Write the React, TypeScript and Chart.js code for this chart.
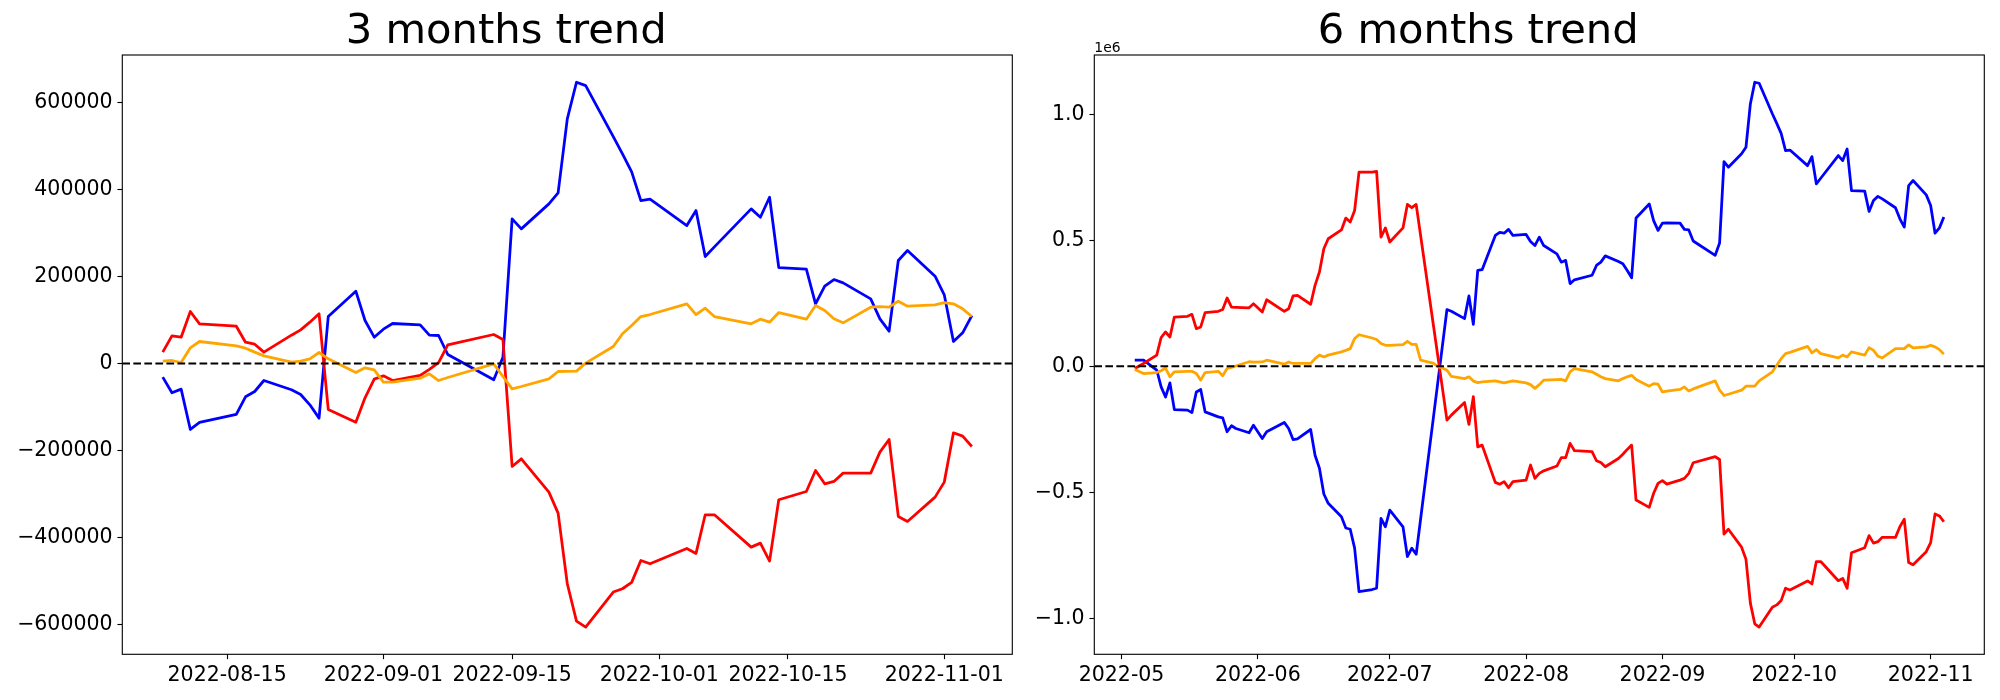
import React, { useEffect, useRef } from 'react';
import { Chart, registerables } from 'chart.js';

Chart.register(...registerables);

// ---- DATA ----
// Trading days (Korean market) covered by the 6-month panel
const tradingDays6m = [
  '2022-05-04', '2022-05-06', '2022-05-09', '2022-05-10', '2022-05-11', '2022-05-12', '2022-05-13',
  '2022-05-16', '2022-05-17', '2022-05-18', '2022-05-19', '2022-05-20', '2022-05-23', '2022-05-24',
  '2022-05-25', '2022-05-26', '2022-05-27', '2022-05-30', '2022-05-31',
  '2022-06-02', '2022-06-03', '2022-06-07', '2022-06-08', '2022-06-09', '2022-06-10', '2022-06-13',
  '2022-06-14', '2022-06-15', '2022-06-16', '2022-06-17', '2022-06-20', '2022-06-21', '2022-06-22',
  '2022-06-23', '2022-06-24', '2022-06-27', '2022-06-28', '2022-06-29', '2022-06-30',
  '2022-07-01', '2022-07-04', '2022-07-05', '2022-07-06', '2022-07-07', '2022-07-08', '2022-07-11',
  '2022-07-12', '2022-07-13', '2022-07-14', '2022-07-15', '2022-07-18', '2022-07-19', '2022-07-20',
  '2022-07-21', '2022-07-22', '2022-07-25', '2022-07-26', '2022-07-27', '2022-07-28', '2022-07-29',
  '2022-08-01', '2022-08-02', '2022-08-03', '2022-08-04', '2022-08-05', '2022-08-08', '2022-08-09',
  '2022-08-10', '2022-08-11', '2022-08-12', '2022-08-16', '2022-08-17', '2022-08-18', '2022-08-19',
  '2022-08-22', '2022-08-23', '2022-08-24', '2022-08-25', '2022-08-26', '2022-08-29', '2022-08-30',
  '2022-08-31',
  '2022-09-01', '2022-09-02', '2022-09-05', '2022-09-06', '2022-09-07', '2022-09-08', '2022-09-13',
  '2022-09-14', '2022-09-15', '2022-09-16', '2022-09-19', '2022-09-20', '2022-09-21', '2022-09-22',
  '2022-09-23', '2022-09-26', '2022-09-27', '2022-09-28', '2022-09-29', '2022-09-30',
  '2022-10-04', '2022-10-05', '2022-10-06', '2022-10-07', '2022-10-11', '2022-10-12', '2022-10-13',
  '2022-10-14', '2022-10-17', '2022-10-18', '2022-10-19', '2022-10-20', '2022-10-21', '2022-10-24',
  '2022-10-25', '2022-10-26', '2022-10-27', '2022-10-28', '2022-10-31',
  '2022-11-01', '2022-11-02', '2022-11-03', '2022-11-04',
];
const start3m = '2022-08-08';
const tradingDays3m = tradingDays6m.slice(tradingDays6m.indexOf(start3m));

// 3 months trend
const blue3m = [
  -31400, -67400, -59000, -151700, -135600, -117200, -76600, -64400, -39100, -60500,
  -71300, -95000, -125700, 108000, 166300, 98900, 60500, 78900, 92000, 88900,
  65100, 64400, 20700, -37500, 14600, 332600, 309600, 367100, 392300, 562500,
  646800, 639100, 521900, 482000, 440700, 374700, 377800, 317200, 351700, 246000,
  268200, 355600, 336400, 382400, 220700, 216900, 137200, 177800, 193100, 185400,
  148700, 102700, 74300, 236800, 259800, 200800, 157900, 50600, 70500, 110300,
];
const red3m = [
  26100, 63600, 60500, 119500, 91200, 85800, 49000, 44400, 26100, 65100,
  77400, 95000, 114200, -105700, -134900, -78900, -36000, -28400, -39100, -27200,
  -13500, 2000, 42900, 66700, 55200, -236800, -219200, -295800, -344100, -506500,
  -592300, -606100, -525600, -518000, -503400, -452900, -460500, -425300, -436800, -347900,
  -347900, -422300, -413100, -454400, -313400, -294300, -246000, -276600, -271300, -252100,
  -252100, -203900, -174700, -351700, -363200, -307300, -272800, -159400, -167100, -190800,
];
const orange3m = [
  5400, 6900, 2300, 36000, 50600, 40600, 35200, 26100, 17600, 3100,
  5400, 10700, 25300, 10700, -20700, -10000, -14600, -42900, -42900, -33700,
  -23800, -39100, -32200, -800, -30000, -58200, -52900, -35200, -18400, -18000,
  -17600, 800, 39100, 68200, 87400, 108000, 112600, 137200, 112600, 127200,
  108000, 91200, 101900, 95000, 117200, 101900, 133300, 121800, 102700, 93500,
  129500, 131000, 129500, 143300, 131800, 134900, 140200, 137200, 125700, 108000,
];

// 6 months trend (values in units of 1e6)
const blue6m = [
  0.024, 0.024, -0.015, -0.082, -0.122, -0.066, -0.172, -0.174, -0.184, -0.102,
  -0.092, -0.181, -0.201, -0.205, -0.260, -0.236, -0.247, -0.264, -0.234,
  -0.287, -0.260, -0.223, -0.247, -0.291, -0.288, -0.251, -0.353, -0.405, -0.507,
  -0.544, -0.597, -0.642, -0.647, -0.722, -0.894, -0.886, -0.881, -0.604, -0.637,
  -0.571, -0.637, -0.755, -0.722, -0.746, -0.607, -0.192, -0.053, 0.086, 0.225,
  0.218, 0.189, 0.279, 0.166, 0.380, 0.383, 0.519, 0.531, 0.528, 0.543, 0.519,
  0.523, 0.495, 0.479, 0.512, 0.479, 0.446, 0.413, 0.420, 0.328, 0.343,
  0.361, 0.400, 0.413, 0.438, 0.416, 0.407, 0.380, 0.351, 0.588, 0.644, 0.578, 0.539,
  0.568, 0.569, 0.568, 0.543, 0.541, 0.497, 0.440, 0.489, 0.812, 0.790,
  0.843, 0.869, 1.041, 1.127, 1.123, 1.002, 0.964, 0.924, 0.856, 0.858,
  0.796, 0.832, 0.724, 0.746, 0.836, 0.816, 0.862, 0.697, 0.695, 0.614,
  0.658, 0.674, 0.664, 0.629, 0.585, 0.552, 0.717, 0.737, 0.680,
  0.638, 0.528, 0.549, 0.592,
];
const red6m = [
  -0.009, 0.011, 0.044, 0.114, 0.136, 0.116, 0.195, 0.198, 0.206, 0.149,
  0.156, 0.213, 0.218, 0.225, 0.271, 0.235, 0.234, 0.232, 0.248,
  0.215, 0.264, 0.218, 0.228, 0.279, 0.281, 0.246, 0.321, 0.374, 0.466,
  0.506, 0.541, 0.588, 0.572, 0.618, 0.770, 0.770, 0.773, 0.512, 0.549,
  0.493, 0.549, 0.642, 0.629, 0.642, 0.520, 0.153, 0.031, -0.091, -0.214,
  -0.194, -0.144, -0.231, -0.121, -0.320, -0.313, -0.461, -0.468, -0.458, -0.482, -0.458,
  -0.452, -0.392, -0.445, -0.425, -0.415, -0.396, -0.363, -0.363, -0.306, -0.335,
  -0.339, -0.375, -0.382, -0.399, -0.366, -0.349, -0.330, -0.313, -0.531, -0.560, -0.504, -0.465,
  -0.454, -0.468, -0.452, -0.445, -0.425, -0.383, -0.359, -0.370, -0.666, -0.647,
  -0.718, -0.766, -0.940, -1.022, -1.035, -0.956, -0.947, -0.930, -0.881, -0.888,
  -0.852, -0.864, -0.775, -0.775, -0.851, -0.842, -0.881, -0.740, -0.720, -0.672,
  -0.702, -0.696, -0.679, -0.679, -0.637, -0.607, -0.779, -0.788, -0.736,
  -0.700, -0.586, -0.594, -0.617,
];
const orange6m = [
  -0.013, -0.029, -0.025, -0.018, -0.007, -0.042, -0.022, -0.020, -0.020, -0.029,
  -0.055, -0.025, -0.020, -0.038, -0.009, -0.005, 0.001, 0.018, 0.016,
  0.017, 0.024, 0.008, 0.017, 0.011, 0.011, 0.011, 0.030, 0.044, 0.037,
  0.044, 0.057, 0.063, 0.070, 0.110, 0.125, 0.112, 0.106, 0.090, 0.083,
  0.083, 0.086, 0.099, 0.087, 0.087, 0.024, 0.011, -0.003, -0.007, -0.016,
  -0.040, -0.049, -0.042, -0.059, -0.065, -0.062, -0.058, -0.062, -0.066, -0.062, -0.058,
  -0.066, -0.073, -0.088, -0.073, -0.055, -0.053, -0.052, -0.058, -0.022, -0.009,
  -0.022, -0.032, -0.042, -0.049, -0.058, -0.049, -0.042, -0.036, -0.053, -0.079, -0.069, -0.071,
  -0.102, -0.099, -0.092, -0.082, -0.098, -0.090, -0.058, -0.095, -0.116, -0.111,
  -0.095, -0.079, -0.079, -0.079, -0.058, -0.022, 0.004, 0.030, 0.050, 0.055,
  0.079, 0.053, 0.066, 0.050, 0.033, 0.044, 0.037, 0.057, 0.044, 0.074,
  0.063, 0.040, 0.033, 0.070, 0.070, 0.070, 0.085, 0.073, 0.077,
  0.083, 0.077, 0.066, 0.048,
];

// Tick labels
const xTickLabels3m = ['2022-08-15', '2022-09-01', '2022-09-15', '2022-10-01', '2022-10-15', '2022-11-01'];
const xTickLabels6m = ['2022-05', '2022-06', '2022-07', '2022-08', '2022-09', '2022-10', '2022-11'];
const yTicks3m = [-600000, -400000, -200000, 0, 200000, 400000, 600000];
const yTicks6m = [-1.0, -0.5, 0.0, 0.5, 1.0];

// ---- STYLE / LAYOUT ----
const FONT = '"DejaVu Sans", sans-serif';
const CANVAS_W = 1135;
const CANVAS_H = 700;
const Y_AXIS_W = 122.3;
const X_AXIS_H = 45.7;
const RIGHT_PAD = CANVAS_W - Y_AXIS_W - 890;
const LW = 2.78;
const ZERO_LW = 2.08;

const dayNum = (s: string) => {
  const [y, m, d] = s.split('-').map(Number);
  return Date.UTC(y, m - 1, d || 1) / 86400000;
};

const minus = (s: string) => s.replace('-', '\u2212');

const framePlugin = {
  id: 'frame',
  afterDraw(chart: any) {
    const { ctx, chartArea } = chart;
    ctx.save();
    ctx.strokeStyle = '#000';
    ctx.lineWidth = 1.11;
    ctx.strokeRect(chartArea.left, chartArea.top, chartArea.right - chartArea.left, chartArea.bottom - chartArea.top);
    ctx.restore();
  },
};

const makeOffsetPlugin = (text: string) => ({
  id: 'offsetText',
  afterDraw(chart: any) {
    if (!text) return;
    const { ctx, chartArea } = chart;
    ctx.save();
    ctx.font = `13.9px ${FONT}`;
    ctx.fillStyle = '#000';
    ctx.textAlign = 'left';
    ctx.textBaseline = 'alphabetic';
    ctx.fillText(text, chartArea.left, chartArea.top - 3.5);
    ctx.restore();
  },
});

type PanelProps = {
  left: number;
  title: string;
  dates: string[];
  blue: number[];
  red: number[];
  orange: number[];
  xLabels: string[];
  xLabelDates: string[];
  yTicks: number[];
  yFmt: (v: number) => string;
  offsetText: string;
};

function Panel(p: PanelProps) {
  const ref = useRef<HTMLCanvasElement | null>(null);
  useEffect(() => {
    if (!ref.current) return;
    const xs = p.dates.map(dayNum);
    const x0 = Math.min(...xs);
    const x1 = Math.max(...xs);
    const xm = (x1 - x0) * 0.05;
    const all = [...p.blue, ...p.red, ...p.orange, 0];
    const y0 = Math.min(...all);
    const y1 = Math.max(...all);
    const ym = (y1 - y0) * 0.05;
    const xmin = x0 - xm;
    const xmax = x1 + xm;
    const pts = (vals: number[]) => vals.map((v, i) => ({ x: xs[i], y: v }));
    const xTickVals = p.xLabelDates.map(dayNum);
    const xLabelMap = new Map<number, string>();
    xTickVals.forEach((v, i) => xLabelMap.set(v, p.xLabels[i]));

    const line = (data: any[], color: string, extra: any = {}) => ({
      data,
      borderColor: color,
      backgroundColor: color,
      borderWidth: LW,
      pointRadius: 0,
      pointHoverRadius: 0,
      tension: 0,
      fill: false,
      borderCapStyle: 'butt',
      borderJoinStyle: 'round',
      ...extra,
    });

    const tickFont = { family: FONT, size: 20.5 };
    const gridOpts = {
      display: true,
      drawOnChartArea: false,
      drawTicks: true,
      tickLength: 4.86,
      tickWidth: 1.11,
      tickColor: '#000',
    };

    const chart = new Chart(ref.current, {
      type: 'line',
      data: {
        datasets: [
          line([{ x: xmin, y: 0 }, { x: xmax, y: 0 }], '#000000', { borderDash: [7.7, 3.33], borderWidth: ZERO_LW }),
          line(pts(p.orange), '#ffa500'),
          line(pts(p.red), '#ff0000'),
          line(pts(p.blue), '#0000ff'),
        ] as any,
      },
      options: {
        animation: false,
        responsive: true,
        maintainAspectRatio: false,
        events: [],
        layout: { padding: { left: 0, right: RIGHT_PAD, top: 0, bottom: 0 } },
        plugins: {
          legend: { display: false },
          tooltip: { enabled: false },
          title: {
            display: true,
            text: p.title,
            color: '#000',
            font: { family: FONT, size: 41.67, weight: 'normal', lineHeight: 1 },
            padding: { top: 11.5, bottom: 1.83 },
          },
        },
        scales: {
          x: {
            type: 'linear',
            min: xmin,
            max: xmax,
            afterFit: (s: any) => { s.height = X_AXIS_H; },
            afterBuildTicks: (s: any) => { s.ticks = xTickVals.map((v) => ({ value: v })); },
            ticks: {
              autoSkip: false,
              maxRotation: 0,
              minRotation: 0,
              padding: 4,
              color: '#000',
              font: tickFont,
              callback: (v: any) => xLabelMap.get(Number(v)) ?? '',
            },
            grid: gridOpts,
            border: { display: false },
          },
          y: {
            type: 'linear',
            min: y0 - ym,
            max: y1 + ym,
            afterFit: (s: any) => { s.width = Y_AXIS_W; },
            afterBuildTicks: (s: any) => { s.ticks = p.yTicks.map((v) => ({ value: v })); },
            ticks: {
              autoSkip: false,
              padding: 4.86,
              color: '#000',
              font: tickFont,
              callback: (v: any) => p.yFmt(Number(v)),
            },
            grid: gridOpts,
            border: { display: false },
          },
        },
      } as any,
      plugins: [framePlugin, makeOffsetPlugin(p.offsetText)],
    });
    return () => chart.destroy();
  }, []);

  return (
    <div style={{ position: 'absolute', left: p.left, top: 0, width: CANVAS_W, height: CANVAS_H }}>
      <canvas ref={ref} />
    </div>
  );
}

export default function App() {
  return (
    <div
      style={{
        position: 'absolute',
        left: 0,
        top: 0,
        width: 2000,
        height: 700,
        overflow: 'hidden',
        background: '#ffffff',
      }}
    >
      <Panel
        left={0}
        title="3 months trend"
        dates={tradingDays3m}
        blue={blue3m}
        red={red3m}
        orange={orange3m}
        xLabels={xTickLabels3m}
        xLabelDates={xTickLabels3m}
        yTicks={yTicks3m}
        yFmt={(v) => minus(String(Math.round(v)))}
        offsetText=""
      />
      <Panel
        left={972}
        title="6 months trend"
        dates={tradingDays6m}
        blue={blue6m}
        red={red6m}
        orange={orange6m}
        xLabels={xTickLabels6m}
        xLabelDates={xTickLabels6m.map((s) => s + '-01')}
        yTicks={yTicks6m}
        yFmt={(v) => minus(v.toFixed(1))}
        offsetText="1e6"
      />
    </div>
  );
}
